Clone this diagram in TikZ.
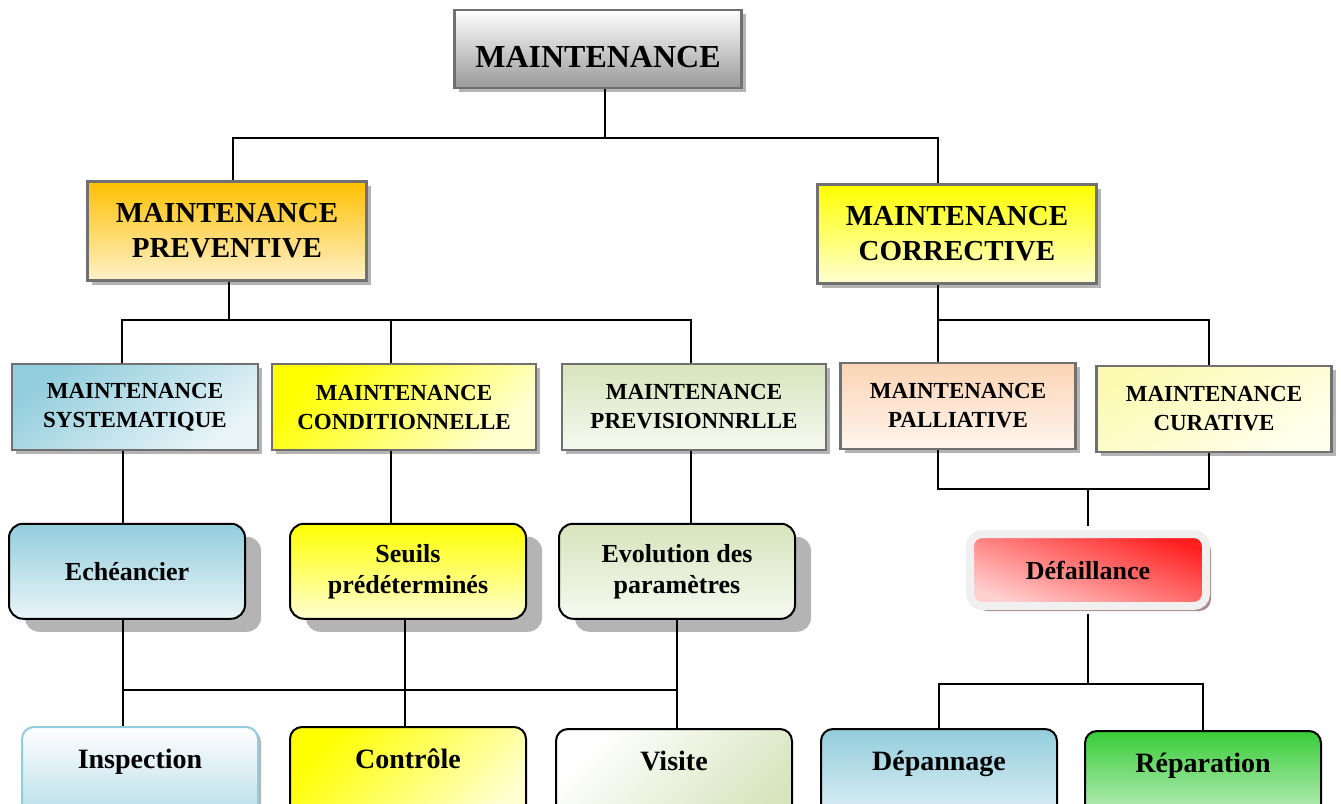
\documentclass[tikz,border=0pt]{standalone}
\usepackage{fontspec}
\setmainfont{Liberation Serif}
\usetikzlibrary{positioning, shadows}

\definecolor{hdorange}{RGB}{255,192,0}
\definecolor{hdcream}{RGB}{255,241,204}
\definecolor{lblue}{RGB}{146,205,220}
\definecolor{pblue}{RGB}{234,245,249}
\definecolor{lgreen}{RGB}{215,228,189}
\definecolor{pgreen}{RGB}{246,249,240}
\definecolor{lpeach}{RGB}{251,212,180}
\definecolor{ppeach}{RGB}{255,245,238}
\definecolor{pyellow}{RGB}{255,255,210}
\definecolor{cyellow}{RGB}{252,250,178}
\definecolor{bordergray}{RGB}{112,112,112}
\definecolor{shadowgray}{RGB}{180,180,180}
\definecolor{shadowrose}{RGB}{168,138,138}
\definecolor{dgreen}{RGB}{56,204,56}

\begin{document}
\begin{tikzpicture}[x=1pt, y=-1pt, node distance=14pt,
    every node/.style={font=\bfseries, align=center, inner sep=0pt},
    conn/.style={line width=2pt},
    flatbox/.style={draw=bordergray, line width=2.5pt,
                drop shadow={shadow xshift=4pt, shadow yshift=-4pt, fill=shadowgray, opacity=1}},
    toplvl/.style={flatbox, minimum width=287pt, minimum height=78pt,
                text height=36pt, text depth=0pt,
                font=\fontsize{32}{38}\selectfont\bfseries},
    lvltwo/.style={flatbox, minimum width=279pt, minimum height=99pt,
                font=\fontsize{29}{35}\selectfont\bfseries},
    lvlthree/.style={flatbox, minimum height=86pt,
                font=\fontsize{23}{29}\selectfont\bfseries},
    rndbox/.style={draw=black, line width=2pt, rounded corners=14pt,
                minimum width=236pt, minimum height=95pt,
                font=\fontsize{26}{31}\selectfont\bfseries,
                drop shadow={shadow xshift=16pt, shadow yshift=-13pt, fill=shadowgray, opacity=1}},
    leafbox/.style={draw=black, line width=2pt, rounded corners=12pt, anchor=north,
                minimum width=236pt, text height=41pt, text depth=60pt,
                font=\fontsize{28}{33}\selectfont\bfseries}]

    \path[use as bounding box, fill=white] (0,0) rectangle (1341,803);
    \clip (0,0) rectangle (1341,803);

    % levels 1 and 2
    \node[toplvl, top color=white, bottom color=black!40] (maint) at (598,49) {MAINTENANCE};
    \node[lvltwo, top color=hdorange, bottom color=hdcream] (prev) at (227,231) {MAINTENANCE\\PREVENTIVE};
    \node[lvltwo, top color=yellow, bottom color=pyellow] (corr) at (957,234) {MAINTENANCE\\CORRECTIVE};

    % level 3
    \node[lvlthree, minimum width=246pt, top color=lblue, bottom color=pblue, shading angle=35] (syst) at (135,407) {MAINTENANCE\\SYSTEMATIQUE};
    \node[lvlthree, minimum width=264pt, right=11.5pt of syst, top color=yellow, bottom color=pyellow, shading angle=45] (cond) {MAINTENANCE\\CONDITIONNELLE};
    \node[lvlthree, minimum width=264pt, right=23.5pt of cond, top color=lgreen, bottom color=pgreen] (previs) {MAINTENANCE\\PREVISIONNRLLE};
    \node[lvlthree, minimum width=235pt, top color=lpeach, bottom color=ppeach] (pall) at (958,406) {MAINTENANCE\\PALLIATIVE};
    \node[lvlthree, minimum width=235pt, right=18.5pt of pall, yshift=-3pt, top color=cyellow, bottom color=pyellow!40!white, shading angle=30] (cur) {MAINTENANCE\\CURATIVE};

    % level 4
    \node[rndbox, below=71.5pt of syst, xshift=-8pt, top color=lblue, bottom color=pblue] (ech) {Echéancier};
    \node[rndbox, below=71.5pt of cond, xshift=4pt, top color=yellow, bottom color=pyellow] (seuils) {Seuils\\prédéterminés};
    \node[rndbox, below=71.5pt of previs, xshift=-17pt, top color=lgreen, bottom color=pgreen] (evol) {Evolution des\\paramètres};
    \node[draw=black!6, line width=8pt, rounded corners=12pt, minimum width=236pt, minimum height=72pt,
          top color=red!88, bottom color=red!18, shading angle=-20,
          drop shadow={shadow xshift=5pt, shadow yshift=-5pt, fill=shadowrose, opacity=1},
          font=\fontsize{26}{31}\selectfont\bfseries] (defail) at (1088,570) {Défaillance};

    % leaves
    \node[leafbox, draw=lblue, top color=white, bottom color=lblue!75,
          drop shadow={shadow xshift=3pt, shadow yshift=-3pt, fill=shadowgray, opacity=1}] (insp) at (140,726) {Inspection};
    \node[leafbox, top color=yellow, bottom color=pyellow, shading angle=45] (ctrl) at (408,726) {Contrôle};
    \node[leafbox, top color=white, bottom color=lgreen, shading angle=45] (visite) at (674,728) {Visite};
    \node[leafbox, top color=lblue, bottom color=pblue] (dep) at (939,728) {Dépannage};
    \node[leafbox, top color=dgreen, bottom color=dgreen!20] (rep) at (1203,730) {Réparation};

    % connectors
    \draw[conn] ([xshift=7pt]maint.south) -- ++(0,49) coordinate (j1);
    \draw[conn] ([xshift=6pt]prev.north) |- (j1) -| ([xshift=-19pt]corr.north);

    \draw[conn] ([xshift=2pt]prev.south) -- ++(0,38) coordinate (j2);
    \draw[conn] ([xshift=-13pt]syst.north) |- (j2) -| ([xshift=-3pt]previs.north);
    \coordinate (k2) at ([xshift=-13pt]cond.north);
    \draw[conn] (k2) -- (k2 |- j2);

    \draw[conn] ([xshift=-19pt]corr.south) -- ++(0,35) coordinate (j3);
    \draw[conn] ([xshift=-20pt]pall.north) |- (j3) -| ([xshift=-5pt]cur.north);

    \coordinate (s1) at ([xshift=-12pt]syst.south);
    \coordinate (s2) at ([xshift=-13pt]cond.south);
    \coordinate (s3) at ([xshift=-3pt]previs.south);
    \draw[conn] (s1) -- (s1 |- ech.north);
    \draw[conn] (s2) -- (s2 |- seuils.north);
    \draw[conn] (s3) -- (s3 |- evol.north);

    \coordinate (e1) at ([xshift=-4pt]ech.south);
    \coordinate (e2) at ([xshift=-3pt]seuils.south);
    \draw[conn] (e1) -- (e1 |- insp.north);
    \draw[conn] (e2) -- (e2 |- ctrl.north);
    \draw[conn] (evol.south) -- (evol.south |- visite.north);
    \path (e1) ++(0,70) coordinate (bar);
    \draw[conn] (bar) -- (bar -| evol.south);

    \coordinate (p1) at ([xshift=-20pt]pall.south);
    \coordinate (c1) at ([xshift=-5pt]cur.south);
    \path (p1) ++(0,39) coordinate (j4);
    \draw[conn] (p1) -- (j4) -- (j4 -| c1) -- (c1);
    \draw[conn, shorten <=4pt] (defail.north) -- (defail.north |- j4);

    \path (defail.south) ++(0,74) coordinate (j5);
    \draw[conn, shorten <=4pt] (defail.south) -- (j5);
    \draw[conn] (dep.north) |- (j5) -| (rep.north);
\end{tikzpicture}
\end{document}
